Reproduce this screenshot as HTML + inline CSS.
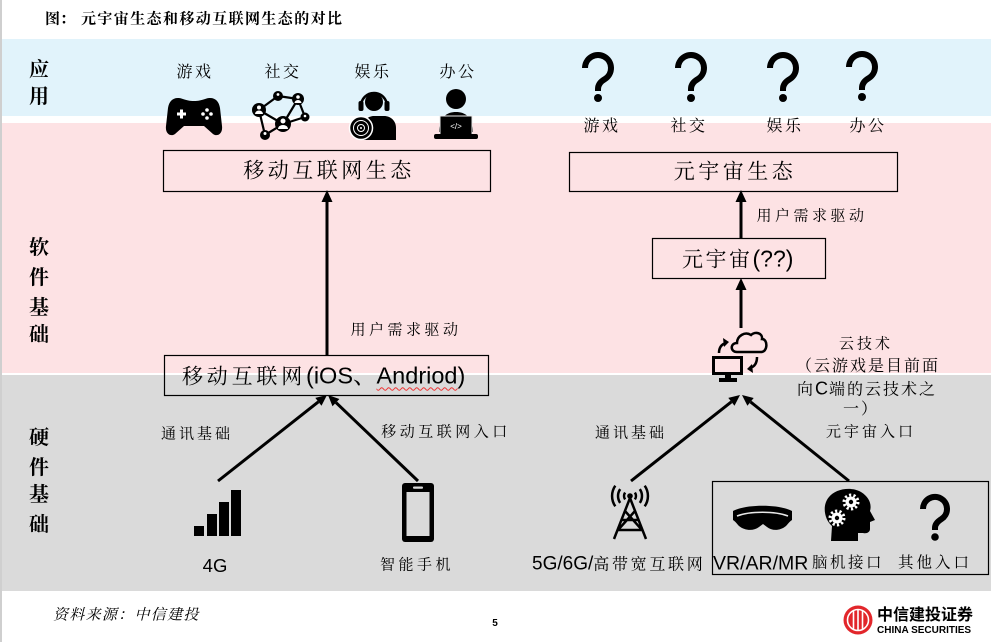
<!DOCTYPE html>
<html><head><meta charset="utf-8">
<style>
html,body{margin:0;padding:0}
body{width:991px;height:642px;position:relative;overflow:hidden;background:#fff;font-family:"Liberation Sans","Noto Serif CJK SC",serif;color:#000}
svg{position:absolute;left:0;top:0}
.t{position:absolute;white-space:nowrap;line-height:1;transform:translate(-50%,-50%)}
.l{position:absolute;white-space:nowrap;line-height:1;transform:translateY(-50%)}
.cj{font-family:"Liberation Sans","Noto Serif CJK SC",serif}
.s16{font-size:16px;letter-spacing:2.5px}
.s15{font-size:15px;letter-spacing:3.5px}
.lab{font-size:20px;font-weight:bold}
</style></head>
<body>
<svg width="991" height="642" viewBox="0 0 991 642">
  <!-- bands -->
  <rect x="2" y="39" width="989" height="77" fill="#e1f3fb"/>
  <rect x="2" y="123" width="989" height="250" fill="#fde2e4"/>
  <rect x="2" y="375" width="989" height="216" fill="#dadada"/>
  <rect x="0" y="0" width="2" height="642" fill="#cfcfcf"/>

  <!-- boxes -->
  <g fill="none" stroke="#000" stroke-width="1.2">
    <rect x="163.5" y="150.5" width="327" height="41"/>
    <rect x="569.5" y="152.5" width="328" height="39"/>
    <rect x="652.5" y="238.5" width="173" height="40"/>
    <rect x="164.5" y="355.5" width="324" height="40"/>
    <rect x="712.5" y="481.5" width="276" height="93"/>
  </g>

  <!-- arrows -->
  <g stroke="#000" stroke-width="3" fill="none">
    <line x1="327" y1="355" x2="327" y2="200"/>
    <line x1="741" y1="238" x2="741" y2="200"/>
    <line x1="741" y1="328" x2="741" y2="288"/>
    <line x1="218" y1="481" x2="318.4" y2="401.8"/>
    <line x1="418" y1="481" x2="336" y2="402.6"/>
    <line x1="631" y1="481" x2="731.4" y2="401.8"/>
    <line x1="849" y1="481" x2="750.6" y2="401.9"/>
  </g>
  <g fill="#000">
    <polygon points="327,190 321.5,202 332.5,202"/>
    <polygon points="741,190 735.5,202 746.5,202"/>
    <polygon points="741,278 735.5,290 746.5,290"/>
    <polygon points="327,395 321.5,405.7 315.3,397.9"/>
    <polygon points="328,395 339.4,399.0 332.5,406.2"/>
    <polygon points="740,395 734.5,405.7 728.3,397.9"/>
    <polygon points="742,395 753.7,398.0 747.4,405.8"/>
  </g>

  <!-- gamepad -->
  <path d="M178,98 C172,98 169,102 168,108 L166,126 C165,134 171,137 175,134 L184,126 L204,126 L213,134 C217,137 223,134 222,126 L220,108 C219,102 216,98 210,98 C205,98 203,101 194,101 C185,101 183,98 178,98 Z" fill="#000"/>
  <rect x="177" y="112.5" width="9" height="3" fill="#fff"/>
  <rect x="180" y="109.5" width="3" height="9" fill="#fff"/>
  <g fill="#fff"><circle cx="207" cy="110" r="1.8"/><circle cx="207" cy="118" r="1.8"/><circle cx="203" cy="114" r="1.8"/><circle cx="211" cy="114" r="1.8"/></g>

  <!-- network -->
  <g stroke="#000" stroke-width="2.2">
    <line x1="259" y1="110" x2="278" y2="96"/>
    <line x1="278" y1="96" x2="298" y2="99"/>
    <line x1="298" y1="99" x2="283" y2="124"/>
    <line x1="298" y1="99" x2="305" y2="117"/>
    <line x1="259" y1="110" x2="283" y2="124"/>
    <line x1="259" y1="110" x2="265" y2="135"/>
    <line x1="283" y1="124" x2="265" y2="135"/>
    <line x1="283" y1="124" x2="305" y2="117"/>
  </g>
  <g fill="#000">
    <circle cx="259" cy="110" r="7"/><circle cx="278" cy="96" r="5"/><circle cx="298" cy="99" r="6"/>
    <circle cx="283" cy="124" r="8"/><circle cx="305" cy="117" r="4.5"/><circle cx="265" cy="135" r="5"/>
  </g>
  <g fill="#fff">
    <circle cx="259" cy="107.5" r="2"/><path d="M255,114 a4,3.5 0 0 1 8,0 z"/>
    <circle cx="283" cy="121" r="2.5"/><path d="M278,129 a5,4 0 0 1 10,0 z"/>
    <circle cx="298" cy="97" r="1.8"/><path d="M294.5,103 a3.5,3 0 0 1 7,0 z"/>
    <circle cx="278" cy="94.5" r="1.4"/><circle cx="305" cy="116" r="1.3"/><circle cx="265" cy="133.5" r="1.5"/>
  </g>

  <!-- headphone person -->
  <path d="M364,140 L364,126 C364,119 369,116 374,116 L384,116 C391,116 396,121 396,128 L396,140 Z" fill="#000"/>
  <circle cx="374" cy="102" r="9" fill="#000"/>
  <path d="M361,106 A13,13 0 0 1 387,106" fill="none" stroke="#000" stroke-width="2.5"/>
  <rect x="358.5" y="101" width="5" height="10" rx="2" fill="#000"/>
  <rect x="384.5" y="101" width="5" height="10" rx="2" fill="#000"/>
  <circle cx="361" cy="128" r="11.5" fill="#000" stroke="#fff" stroke-width="1.5"/>
  <circle cx="361" cy="128" r="7.5" fill="none" stroke="#fff" stroke-width="1"/>
  <circle cx="361" cy="128" r="3.5" fill="none" stroke="#fff" stroke-width="1"/>
  <circle cx="361" cy="128" r="1" fill="#fff"/>

  <!-- office coder -->
  <circle cx="456" cy="99" r="10" fill="#000"/>
  <path d="M439,132 C439,118 446,112 456,112 C466,112 473,118 473,132 Z" fill="#000"/>
  <rect x="440" y="116" width="32" height="19" fill="#000" stroke="#e8e8e8" stroke-width="1"/>
  <rect x="434" y="134" width="44" height="5" rx="2" fill="#000"/>
  <text x="456" y="129" font-size="8" fill="#fff" text-anchor="middle" font-family="Liberation Sans">&lt;/&gt;</text>

  <!-- question marks -->
  <g fill="none" stroke="#000" stroke-width="6">
    <path d="M585,68 A13,13 0 1 1 605,79 Q598,83 598,89 L598,91"/>
    <path d="M678,68 A13,13 0 1 1 698,79 Q691,83 691,89 L691,91"/>
    <path d="M770,68 A13,13 0 1 1 790,79 Q783,83 783,89 L783,91"/>
    <path d="M849,67 A13,13 0 1 1 869,78 Q862,82 862,88 L862,90"/>
    <path d="M923,509 A12,12 0 1 1 941.5,519 Q935,523 935,528 L935,530"/>
  </g>
  <g fill="#000">
    <circle cx="598" cy="98" r="4"/><circle cx="691" cy="98" r="4"/>
    <circle cx="783" cy="98" r="4"/><circle cx="862" cy="97" r="4"/>
    <circle cx="935" cy="537" r="3.8"/>
  </g>

  <!-- cloud icon -->
  <g fill="none" stroke="#000" stroke-width="3">
    <rect x="713.5" y="357.5" width="28" height="16"/>
    <path d="M737,352 C730,352 730,343 737,343 C737,336 745,331 751,335 C755,331 763,333 762,339 C768,339 768,352 761,352 Z" stroke-width="2.5"/>
    <path d="M719,353 Q719,345 726,343" stroke-width="2.5"/>
    <path d="M757,357 Q757,366 750,368" stroke-width="2.5"/>
  </g>
  <rect x="725" y="373" width="6" height="6" fill="#000"/>
  <rect x="719" y="378" width="18" height="4" fill="#000"/>
  <polygon points="729,342 723,338 724,347" fill="#000"/>
  <polygon points="747,369 753,373 752,364" fill="#000"/>

  <!-- 4G bars -->
  <g fill="#000">
    <rect x="194" y="526" width="10" height="10"/>
    <rect x="207" y="514" width="10" height="22"/>
    <rect x="219" y="502" width="10" height="34"/>
    <rect x="231" y="490" width="10" height="46"/>
  </g>

  <!-- phone -->
  <rect x="402" y="483" width="32" height="59" rx="3" fill="#000"/>
  <rect x="406.5" y="492" width="23" height="44" fill="#dadada"/>
  <rect x="413" y="486.5" width="10" height="2.2" rx="1" fill="#dadada"/>

  <!-- tower -->
  <g fill="none" stroke="#000" stroke-width="2.5">
    <path d="M630,498 L614,539 M630,498 L646,539 M625,511 L642,530 M635,511 L618,530 M618,530 L642,530 M622,520 L638,520"/>
    <path d="M615.3,485.7 A18,18 0 0 0 615.3,506.3 M620.2,489.1 A12,12 0 0 0 620.2,502.9 M625.1,492.6 A6,6 0 0 0 625.1,499.4"/>
    <path d="M644.7,485.7 A18,18 0 0 1 644.7,506.3 M639.8,489.1 A12,12 0 0 1 639.8,502.9 M634.9,492.6 A6,6 0 0 1 634.9,499.4"/>
  </g>
  <circle cx="630" cy="496" r="2.8" fill="#000"/>

  <!-- VR goggles -->
  <path d="M733,511 C746,504 779,504 792,511 L792,520 C789,522 788,524 786,526 C780,531 772,531 767,527 L763,524 L759,527 C754,531 745,531 739,526 C737,524 736,522 733,520 Z" fill="#000"/>
  <path d="M737,516 C750,511 775,511 788,516" fill="none" stroke="#e8e8e8" stroke-width="1.6"/>

  <!-- head with gears -->
  <path d="M831,541 L832,526 C824,519 822,505 829,497 C835,489 851,486 861,492 C869,497 872,504 870,511 L875,520 L870,522 L870,529 C870,532 867,534 863,533 L858,533 L858,541 Z" fill="#000"/>
  <g fill="#fff">
    <circle cx="851" cy="502" r="5.5"/><circle cx="837" cy="518" r="5.5"/>
  </g>
  <g fill="none" stroke="#fff" stroke-width="3" stroke-dasharray="2.2 2.2">
    <circle cx="851" cy="502" r="7"/><circle cx="837" cy="518" r="7"/>
  </g>
  <g fill="#000"><circle cx="851" cy="502" r="2.2"/><circle cx="837" cy="518" r="2.2"/></g>

  <!-- logo -->
  <circle cx="858" cy="620" r="14.5" fill="#e2262b"/>
  <circle cx="858" cy="620" r="10.5" fill="none" stroke="#fff" stroke-width="1.6"/>
  <g stroke="#fff" stroke-width="1.6">
    <line x1="853.5" y1="611" x2="853.5" y2="629"/>
    <line x1="858" y1="609.5" x2="858" y2="630.5"/>
    <line x1="862.5" y1="611" x2="862.5" y2="629"/>
  </g>
</svg>

<!-- title -->
<div class="l" style="left:45px;top:19px;font-size:15px;font-weight:bold;">图：</div>
<div class="l" style="left:81px;top:19px;font-size:15px;font-weight:bold;letter-spacing:1.4px;">元宇宙生态和移动互联网生态的对比</div>

<!-- left labels -->
<div class="t lab" style="left:39px;top:70px">应</div>
<div class="t lab" style="left:39px;top:97px">用</div>
<div class="t lab" style="left:39px;top:248px">软</div>
<div class="t lab" style="left:39px;top:278px">件</div>
<div class="t lab" style="left:39px;top:308px">基</div>
<div class="t lab" style="left:39px;top:335px">础</div>
<div class="t lab" style="left:39px;top:438px">硬</div>
<div class="t lab" style="left:39px;top:468px">件</div>
<div class="t lab" style="left:39px;top:495px">基</div>
<div class="t lab" style="left:39px;top:525px">础</div>

<!-- top labels -->
<div class="t s16" style="left:195px;top:73px">游戏</div>
<div class="t s16" style="left:283px;top:73px">社交</div>
<div class="t s16" style="left:373px;top:73px">娱乐</div>
<div class="t s16" style="left:458px;top:73px">办公</div>
<div class="t s16" style="left:602px;top:127px">游戏</div>
<div class="t s16" style="left:689px;top:127px">社交</div>
<div class="t s16" style="left:785px;top:127px">娱乐</div>
<div class="t s16" style="left:868px;top:127px">办公</div>

<!-- boxes text -->
<div class="t" style="left:329px;top:171px;font-size:21px;letter-spacing:3.5px">移动互联网生态</div>
<div class="t" style="left:735px;top:172px;font-size:21px;letter-spacing:3.5px">元宇宙生态</div>
<div class="l" style="left:682px;top:259px;font-size:21px;"><span style="letter-spacing:2.5px">元宇宙</span><span style="font-size:23px">(??)</span></div>
<div class="l" style="left:182px;top:376px;font-size:21px;"><span style="letter-spacing:3.8px">移动互联网</span><span style="font-size:23.5px">(iOS、<span style="text-decoration:underline wavy #e33;text-decoration-thickness:1px;text-underline-offset:3px">Andriod</span>)</span></div>

<!-- connector labels -->
<div class="t s15" style="left:406px;top:330px">用户需求驱动</div>
<div class="t s15" style="left:812px;top:216px">用户需求驱动</div>
<div class="t s15" style="left:197px;top:434px;letter-spacing:3px">通讯基础</div>
<div class="t s15" style="left:446px;top:432px">移动互联网入口</div>
<div class="t s15" style="left:631px;top:433px;letter-spacing:3px">通讯基础</div>
<div class="t s15" style="left:871px;top:432px;letter-spacing:3px">元宇宙入口</div>
<div class="t s15" style="left:866px;top:344px;letter-spacing:3px">云技术</div>
<div class="t" style="left:868px;top:367px;font-size:16px;letter-spacing:2px">（云游戏是目前面</div>
<div class="t" style="left:867px;top:389px;font-size:16px;letter-spacing:2px">向<span style="font-size:18px;letter-spacing:1px">C</span>端的云技术之</div>
<div class="t" style="left:861px;top:410px;font-size:16px;letter-spacing:2px">一）</div>

<!-- bottom labels -->
<div class="t" style="left:215px;top:566px;font-size:18.5px">4G</div>
<div class="t s15" style="left:417px;top:565px;letter-spacing:3.5px">智能手机</div>
<div class="l" style="left:532px;top:564px;font-size:19px">5G/6G/<span style="font-size:16px;letter-spacing:2.7px">高带宽互联网</span></div>
<div class="l" style="left:713px;top:564px;font-size:19.5px">VR/AR/MR</div>
<div class="l" style="left:812px;top:563px;font-size:15.5px;letter-spacing:2.5px">脑机接口</div>
<div class="l" style="left:898px;top:563px;font-size:15.5px;letter-spacing:3px">其他入口</div>

<!-- footer -->
<div class="l" style="left:53px;top:615px;font-size:15px;font-style:italic;letter-spacing:1.3px">资料来源：中信建投</div>
<div class="t" style="left:495px;top:624px;font-size:10px;font-weight:bold">5</div>
<div class="l" style="left:877px;top:613px;font-size:16px;font-weight:bold;font-family:'Noto Sans CJK SC','Liberation Sans',sans-serif;">中信建投证券</div>
<div class="l" style="left:877px;top:631px;font-size:10px;font-weight:bold;font-family:'Liberation Sans',sans-serif;">CHINA SECURITIES</div>
</body></html>
